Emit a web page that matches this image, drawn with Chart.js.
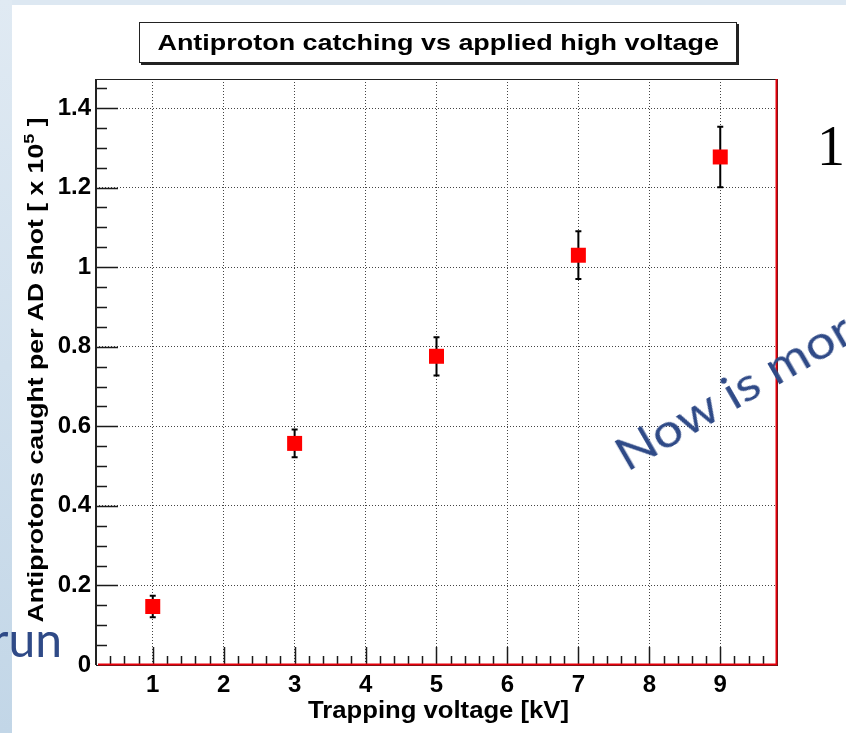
<!DOCTYPE html>
<html>
<head>
<meta charset="utf-8">
<script src="https://cdn.jsdelivr.net/npm/chart.js@4.4.1/dist/chart.umd.min.js"></script>
<style>
  html, body { margin: 0; padding: 0; }
  body { width: 846px; height: 733px; position: relative; overflow: hidden; background: #fff; }
  #stripTop { position: absolute; left: 0; top: 0; width: 846px; height: 5px; background: #dde8f2; }
  #stripLeft { position: absolute; left: 0; top: 0; width: 12px; height: 733px; background: linear-gradient(#e0eaf3, #c2d6e7); }
  #plot { position: absolute; left: 0; top: 0; }
  #titleBox {
    position: absolute; left: 139px; top: 22px; width: 596px; height: 39px;
    border: 1px solid #222; box-shadow: 2px 2px 0 #222; background: #fff;
    font: bold 22px "Liberation Sans", Arial, sans-serif; color: #000;
    text-align: center; line-height: 40px;
  }
  #titleBox span { display: inline-block; transform: scaleX(1.225); }
  .slide { position: absolute; white-space: nowrap; line-height: 1; }
  #run { right: 784px; top: 610px; font: 48px Lato, "Noto Sans", sans-serif; color: #2f4a87; }
  #now { left: 632px; top: 426px; font: 46px Lato, "Noto Sans", sans-serif; color: #2f4a87; transform: rotate(-30deg) scaleX(1.15); transform-origin: 0 100%; }
  #one { left: 817px; top: 114px; font: 56px "Liberation Serif", serif; color: #000; }
</style>
</head>
<body>
<div id="stripTop"></div>
<div id="stripLeft"></div>
<canvas id="plot" width="846" height="733"></canvas>
<div id="titleBox"><span>Antiproton catching vs applied high voltage</span></div>
<div class="slide" id="run">run</div>
<div class="slide" id="now">Now is mor</div>
<div class="slide" id="one">1</div>
<script>
// trapping voltage [kV] and antiprotons caught per shot [x 10^5]
const voltage = [1, 3, 5, 7, 9];
const caught = [0.147, 0.557, 0.776, 1.030, 1.277];
const caughtErr = [0.027, 0.035, 0.048, 0.060, 0.076];

const xTicks = [1, 2, 3, 4, 5, 6, 7, 8, 9];
const yTicks = [0, 0.2, 0.4, 0.6, 0.8, 1, 1.2, 1.4];

const xTitle = "Trapping voltage [kV]";
const yTitle = ["Antiprotons caught per AD shot [ x 10", "5", " ]"];

const labelFont = { family: "Liberation Sans", size: 24, weight: "bold" };

// error bars, inward ROOT style ticks, the frame and the (wide) axis titles
const rootFrame = {
    id: "rootFrame",
    beforeDatasetsDraw(chart) {
        const { ctx, scales: { x, y } } = chart;
        ctx.save();
        ctx.strokeStyle = "#000";
        ctx.lineWidth = 2;
        voltage.forEach((v, i) => {
            let px = x.getPixelForValue(v);
            let top = y.getPixelForValue(caught[i] + caughtErr[i]);
            let bot = y.getPixelForValue(caught[i] - caughtErr[i]);
            ctx.beginPath();
            ctx.moveTo(px, top); ctx.lineTo(px, bot);
            ctx.moveTo(px - 3, top); ctx.lineTo(px + 3, top);
            ctx.moveTo(px - 3, bot); ctx.lineTo(px + 3, bot);
            ctx.stroke();
        });
        ctx.restore();
    },
    afterDraw(chart) {
        const { ctx, chartArea: a, scales: { x, y } } = chart;
        ctx.save();
        ctx.strokeStyle = "#1a1a1a";
        ctx.lineWidth = 1.5;
        ctx.beginPath();
        // y ticks every 0.05, long at the labelled ones
        for (let k = 1; k * 0.05 < y.max; k++) {
            let py = Math.round(y.getPixelForValue(k * 0.05)) + 0.5;
            let len = k % 4 === 0 ? 22 : 11;
            ctx.moveTo(a.left, py); ctx.lineTo(a.left + len, py);
        }
        // x ticks every 0.2, long at integers
        for (let k = 2; k * 0.2 < x.max - 0.01; k++) {
            let px = Math.round(x.getPixelForValue(k * 0.2)) + 0.5;
            let len = k % 5 === 0 ? 18 : 9;
            ctx.moveTo(px, a.bottom); ctx.lineTo(px, a.bottom - len);
        }
        ctx.stroke();

        ctx.strokeStyle = "#222";
        ctx.lineWidth = 1;
        ctx.strokeRect(a.left + 0.5, a.top + 0.5, a.right - a.left, a.bottom - a.top);
        ctx.lineWidth = 2;
        ctx.beginPath();
        ctx.moveTo(a.left, a.top); ctx.lineTo(a.left, a.bottom);
        ctx.stroke();
        ctx.strokeStyle = "#e8000b";
        ctx.beginPath();
        ctx.moveTo(a.left + 2, a.bottom - 0.5); ctx.lineTo(a.right - 0.5, a.bottom - 0.5);
        ctx.lineTo(a.right - 0.5, a.top);
        ctx.stroke();

        // axis titles, stretched along the text like the ROOT output
        ctx.fillStyle = "#000";
        ctx.textBaseline = "alphabetic";
        ctx.textAlign = "left";
        ctx.font = "bold 23px 'Liberation Sans'";
        let w = ctx.measureText(xTitle).width;
        ctx.save();
        ctx.translate((a.left + a.right) / 2 + 2, 718);
        ctx.scale(261 / w, 1);
        ctx.fillText(xTitle, -w / 2, 0);
        ctx.restore();

        const big = "bold 22px 'Liberation Sans'", small = "bold 15px 'Liberation Sans'";
        ctx.font = big;
        let w0 = ctx.measureText(yTitle[0]).width, w2 = ctx.measureText(yTitle[2]).width;
        ctx.font = small;
        let w1 = ctx.measureText(yTitle[1]).width;
        let total = w0 + w1 + w2;
        ctx.save();
        ctx.translate(43, (a.top + a.bottom) / 2 - 2);
        ctx.rotate(-Math.PI / 2);
        ctx.scale(505 / total, 1);
        let sx = -total / 2;
        ctx.font = big;
        ctx.fillText(yTitle[0], sx, 0);
        ctx.font = small;
        ctx.fillText(yTitle[1], sx + w0, -9);
        ctx.font = big;
        ctx.fillText(yTitle[2], sx + w0 + w1, 0);
        ctx.restore();
        ctx.restore();
    }
};

new Chart(document.getElementById("plot"), {
    type: "scatter",
    data: {
        datasets: [{
            data: voltage.map((v, i) => ({ x: v, y: caught[i] })),
            pointStyle: "rect",
            pointRadius: 10.6,
            pointHoverRadius: 10.6,
            backgroundColor: "#ff0000",
            borderWidth: 0
        }]
    },
    options: {
        responsive: false,
        animation: false,
        events: [],
        layout: { padding: { left: 0, top: 79, right: 69, bottom: 0 } },
        plugins: {
            legend: { display: false },
            tooltip: { enabled: false }
        },
        scales: {
            x: {
                type: "linear",
                min: 0.2,
                max: 9.8,
                afterBuildTicks: s => { s.ticks = xTicks.map(v => ({ value: v })); },
                afterFit: s => { s.height = 68; },
                ticks: { font: labelFont, color: "#000", padding: 6, maxRotation: 0, callback: v => String(v) },
                grid: { color: "#444", lineWidth: 1, drawTicks: false },
                border: { display: false, dash: [1, 2] }
            },
            y: {
                min: 0,
                max: 1.473,
                afterBuildTicks: s => { s.ticks = yTicks.map(v => ({ value: v })); },
                afterFit: s => { s.width = 96; },
                ticks: { font: labelFont, color: "#000", padding: 5, callback: v => String(v) },
                grid: { color: "#444", lineWidth: 1, drawTicks: false },
                border: { display: false, dash: [1, 2] }
            }
        }
    },
    plugins: [rootFrame]
});
</script>
</body>
</html>
